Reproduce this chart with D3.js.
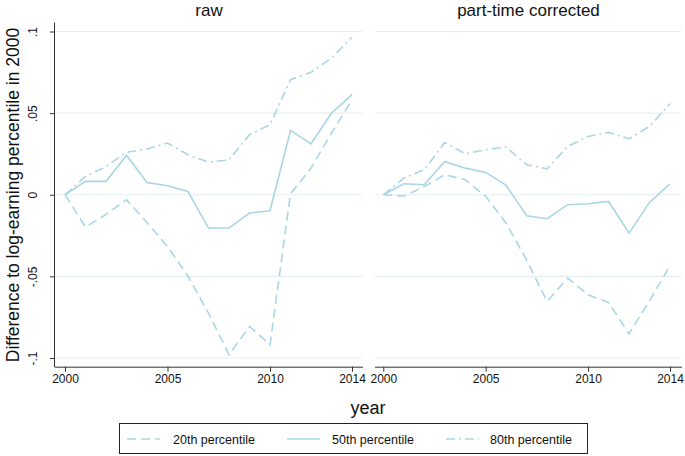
<!DOCTYPE html>
<html lang="en">
<head>
    <meta charset="UTF-8">
    <title>Difference to log-earning percentile in 2000</title>
    <script src="https://d3js.org/d3.v7.min.js"></script>
    <style>
        body { margin: 0; background: #fff; }
        svg { display: block; font-family: "Liberation Sans", Arial, sans-serif; }
    </style>
</head>
<body>
    <div id="chart"></div>

    <script>
        // years on the x axis
        const years = d3.range(2000, 2015);

        // raw panel
        const raw20 = [0, -0.0198, -0.012, -0.0031, -0.017, -0.0317, -0.050, -0.0725, -0.098, -0.0807, -0.0919, 0.0006, 0.0163, 0.0378, 0.0582];
        const raw50 = [0, 0.0082, 0.0082, 0.0241, 0.0075, 0.0055, 0.002, -0.0204, -0.0204, -0.0112, -0.0098, 0.0394, 0.0312, 0.050, 0.0613];
        const raw80 = [0, 0.0112, 0.0173, 0.026, 0.028, 0.0317, 0.0245, 0.020, 0.0214, 0.0368, 0.0429, 0.0705, 0.075, 0.0838, 0.0964];

        // part-time corrected panel
        const pt20 = [0, -0.0008, 0.005, 0.0123, 0.0092, -0.001, -0.0174, -0.040, -0.0654, -0.051, -0.0613, -0.066, -0.0852, -0.065, -0.0435];
        const pt50 = [0, 0.0067, 0.0061, 0.0204, 0.0163, 0.0137, 0.0057, -0.0129, -0.0147, -0.0061, -0.0055, -0.0041, -0.0235, -0.0047, 0.0067];
        const pt80 = [0, 0.0102, 0.0153, 0.032, 0.0251, 0.0276, 0.0292, 0.0184, 0.0159, 0.0296, 0.0357, 0.0382, 0.0343, 0.0419, 0.0558];

        const xTicks = [2000, 2005, 2010, 2014];
        const yTicks = [-0.1, -0.05, 0, 0.05, 0.1];
        const yTickLabels = ["-.1", "-.05", "0", ".05", ".1"];
        const seriesNames = ["20th percentile", "50th percentile", "80th percentile"];
        const panelTitles = ["raw", "part-time corrected"];

        const width = 685, height = 456;
        const lineColor = "#a9d6e6";
        const gridColor = "#e5eeef";
        const dashes = ["9,5", null, "9,4,2,4"];

        const svg = d3.select("#chart").append("svg")
            .attr("width", width)
            .attr("height", height);

        const y = d3.scaleLinear().domain([-0.1, 0.1]).range([358, 31.5]);
        const axisY = 366.7;

        const panels = [
            { title: panelTitles[0], data: [raw20, raw50, raw80], left: 55, right: 363, x0: 65, x1: 352, yAxis: true },
            { title: panelTitles[1], data: [pt20, pt50, pt80], left: 375, right: 682, x0: 383.3, x1: 670, yAxis: false }
        ];

        panels.forEach(p => {
            const x = d3.scaleLinear().domain([2000, 2014]).range([p.x0, p.x1]);
            const g = svg.append("g");

            // gridlines
            g.selectAll(".grid")
                .data(yTicks)
                .enter().append("line")
                .attr("x1", p.left).attr("x2", p.right - 1)
                .attr("y1", d => y(d)).attr("y2", d => y(d))
                .attr("stroke", gridColor)
                .attr("stroke-width", 1.2);

            // title
            g.append("text")
                .attr("x", (p.left + p.right) / 2)
                .attr("y", 16)
                .attr("text-anchor", "middle")
                .style("font-size", "17px")
                .attr("fill", "#111")
                .text(p.title);

            // x axis
            const xAxis = d3.axisBottom(x)
                .tickValues(xTicks)
                .tickFormat(d3.format("d"))
                .tickSize(5)
                .tickPadding(3);
            const xg = g.append("g")
                .attr("transform", `translate(0,${axisY})`)
                .call(xAxis);
            xg.select(".domain").attr("d", `M${p.left},0.5H${p.right}`).attr("stroke", "#333");
            xg.selectAll(".tick line").attr("stroke", "#333");
            xg.selectAll(".tick text").style("font-size", "12px").attr("fill", "#111");

            // y axis (left panel only)
            if (p.yAxis) {
                const yAxis = d3.axisLeft(y)
                    .tickValues(yTicks)
                    .tickFormat((d, i) => yTickLabels[i])
                    .tickSize(5)
                    .tickPadding(0);
                const yg = g.append("g")
                    .attr("transform", `translate(${p.left},0)`)
                    .call(yAxis);
                yg.select(".domain").attr("d", `M-0.5,22.5V${axisY + 0.5}`).attr("stroke", "#333");
                yg.selectAll(".tick line").attr("stroke", "#333");
                yg.selectAll(".tick text")
                    .attr("x", null).attr("dy", null)
                    .attr("text-anchor", "middle")
                    .attr("transform", "translate(-18,0) rotate(-90)")
                    .style("font-size", "12px")
                    .attr("fill", "#111");
            }

            // series lines
            const line = d3.line()
                .x((d, i) => x(years[i]))
                .y(d => y(d));

            g.selectAll(".series")
                .data(p.data)
                .enter().append("path")
                .attr("d", d => line(d))
                .attr("fill", "none")
                .attr("stroke", lineColor)
                .attr("stroke-width", 1.6)
                .attr("stroke-dasharray", (d, i) => dashes[i]);
        });

        // axis titles
        svg.append("text")
            .attr("transform", "translate(19,195) rotate(-90)")
            .attr("text-anchor", "middle")
            .style("font-size", "17.5px")
            .attr("fill", "#111")
            .text("Difference to log-earning percentile in 2000");

        svg.append("text")
            .attr("x", 368)
            .attr("y", 414)
            .attr("text-anchor", "middle")
            .style("font-size", "18px")
            .attr("fill", "#111")
            .text("year");

        // legend
        const legend = svg.append("g");
        legend.append("rect")
            .attr("x", 119.5).attr("y", 423.5)
            .attr("width", 468).attr("height", 30)
            .attr("fill", "#fff")
            .attr("stroke", "#222")
            .attr("stroke-width", 1);

        const legendX = [127, 287, 446];
        const legendItems = legend.selectAll(".item")
            .data(seriesNames)
            .enter().append("g")
            .attr("transform", (d, i) => `translate(${legendX[i]},439)`);

        legendItems.append("line")
            .attr("x1", 0).attr("x2", 33)
            .attr("stroke", lineColor)
            .attr("stroke-width", 1.6)
            .attr("stroke-dasharray", (d, i) => dashes[i]);

        legendItems.append("text")
            .attr("x", (d, i) => [46, 45, 44][i])
            .attr("y", 4.5)
            .style("font-size", "12.5px")
            .attr("fill", "#111")
            .text(d => d);
    </script>
</body>
</html>
